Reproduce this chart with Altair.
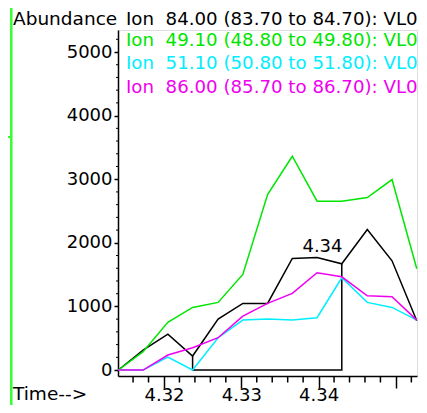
import altair as alt
import pandas as pd

# ---- data ----
times = [4.3141, 4.3173, 4.3205, 4.3237, 4.3270, 4.3302, 4.3334,
         4.3366, 4.3398, 4.3430, 4.3463, 4.3495, 4.3527]
ion_84 = [0, 314, 565, 220, 801, 1047, 1047, 1754, 1770, 1670, 2209, 1717, 775]
ion_49 = [0, 288, 749, 984, 1063, 1503, 2759, 3361, 2654, 2654, 2712, 2995, 1592]
ion_51 = [0, 0, 204, 0, 508, 785, 801, 785, 822, 1450, 1063, 984, 785]
ion_86 = [0, 0, 236, 351, 508, 848, 1047, 1204, 1529, 1466, 1168, 1152, 785]

series_names = ["84.00", "49.10", "51.10", "86.00"]
legend_texts = [
    "Ion\u00a0 84.00 (83.70 to 84.70): VL0",
    "Ion\u00a0 49.10 (48.80 to 49.80): VL0",
    "Ion\u00a0 51.10 (50.80 to 51.80): VL0",
    "Ion\u00a0 86.00 (85.70 to 86.70): VL0",
]
colors = ["#000000", "#00e600", "#00eeff", "#f000f0"]

x_ticks = [4.32, 4.33, 4.34, 4.35]
x_minor = [4.316, 4.318, 4.322, 4.324, 4.326, 4.328, 4.332, 4.334, 4.336,
           4.338, 4.342, 4.344, 4.346, 4.348, 4.352]
y_ticks = [0, 1000, 2000, 3000, 4000, 5000]
y_minor = [200, 400, 600, 800, 1200, 1400, 1600, 1800, 2200, 2400, 2600, 2800,
           3200, 3400, 3600, 3800, 4200, 4400, 4600, 4800, 5200]

peak_label = "4.34"
peak_time = 4.3405
peak_label_level = 1860
baseline_start, baseline_end = 3, 9

FONT = "DejaVu Sans"
FS = 18
FS_T = 18.5
FS_L = 18.2

rows = []
for name, vals in zip(series_names, [ion_84, ion_49, ion_51, ion_86]):
    for t, v in zip(times, vals):
        rows.append({"series": name, "t": t, "v": v})
df = pd.DataFrame(rows)

base_df = pd.DataFrame({
    "t": [times[baseline_start], times[baseline_start], times[baseline_end], times[baseline_end]],
    "v": [ion_84[baseline_start], 0, 0, ion_84[baseline_end]],
    "o": [0, 1, 2, 3],
})

xscale = alt.Scale(domain=[4.31405, 4.35273], nice=False, zero=False)
yscale = alt.Scale(domain=[-94, 5346], nice=False, zero=False)

xaxis = alt.Axis(values=x_ticks, format=".2f",
                 labelExpr="datum.value > 4.345 ? '' : datum.label",
                 tickSize=12, labelPadding=12, labelBaseline="alphabetic",
                 grid=False, title=None,
                 domainColor="black", tickColor="black", labelColor="black",
                 labelFont=FONT, labelFontSize=FS, domainWidth=1.5, tickWidth=1.5,
                 labelFlush=False, labelOverlap=False)
yaxis = alt.Axis(values=y_ticks, format="d", tickSize=4, labelPadding=2, grid=False, title=None,
                 domainColor="black", tickColor="black", labelColor="black",
                 labelFont=FONT, labelFontSize=FS, domainWidth=1.5, tickWidth=1.5,
                 labelFlush=False, labelOverlap=False)

lines = alt.Chart(df).mark_line(strokeWidth=1.5).encode(
    x=alt.X("t:Q", scale=xscale, axis=xaxis),
    y=alt.Y("v:Q", scale=yscale, axis=yaxis),
    color=alt.Color("series:N", scale=alt.Scale(domain=series_names, range=colors), legend=None),
    detail="series:N",
)

baseline = alt.Chart(base_df).mark_line(color="black", strokeWidth=1.5).encode(
    x=alt.X("t:Q", scale=xscale), y=alt.Y("v:Q", scale=yscale), order="o:Q")

xminor = alt.Chart(pd.DataFrame({"t": x_minor})).mark_rule(color="black", strokeWidth=1.5).encode(
    x=alt.X("t:Q", scale=xscale), y=alt.value(346), y2=alt.value(352.5))

yminor = alt.Chart(pd.DataFrame({"v": y_minor})).mark_rule(color="black", strokeWidth=1).encode(
    y=alt.Y("v:Q", scale=yscale), x=alt.value(-2), x2=alt.value(0))

peak = alt.Chart(pd.DataFrame({"t": [peak_time], "v": [peak_label_level], "label": [peak_label]})).mark_text(
    font=FONT, fontSize=FS, align="center", baseline="alphabetic", color="black").encode(
    x=alt.X("t:Q", scale=xscale), y=alt.Y("v:Q", scale=yscale), text="label:N")

one = alt.Data(values=[{}])
texts = []
texts.append(alt.Chart(one).mark_text(font=FONT, fontSize=FS_T, align="left", baseline="alphabetic",
                                      color="black", text="Abundance").encode(
    x=alt.value(-105), y=alt.value(-4.6)))
texts.append(alt.Chart(one).mark_text(font=FONT, fontSize=FS_T, align="left", baseline="alphabetic",
                                      color="black", text="Time-->").encode(
    x=alt.value(-105), y=alt.value(370)))
legend_y = [-4.6, 15.5, 39, 63]
for txt, col, yy in zip(legend_texts, colors, legend_y):
    texts.append(alt.Chart(one).mark_text(font=FONT, fontSize=FS_L, align="left", baseline="alphabetic",
                                          color=col, text=txt).encode(
        x=alt.value(8), y=alt.value(yy)))

frame = alt.Chart(one).mark_rect(filled=False, stroke="#33ff33", strokeWidth=2.5).encode(
    x=alt.value(-106.7), x2=alt.value(307.7), y=alt.value(-29.5), y2=alt.value(381.3))
stub = alt.Chart(one).mark_rule(color="#33ff33", strokeWidth=2).encode(
    x=alt.value(-110), x2=alt.value(-107), y=alt.value(107))

chart = alt.layer(frame, stub, baseline, lines, xminor, yminor, peak, *texts).properties(
    width=299, height=346,
    autosize=alt.AutoSizeParams(type="none"),
    padding={"left": 110, "top": 22, "right": 2, "bottom": 29},
).configure_view(stroke=None).configure(font=FONT)

chart.save("out.html", embed_options={"renderer": "svg", "actions": False})
